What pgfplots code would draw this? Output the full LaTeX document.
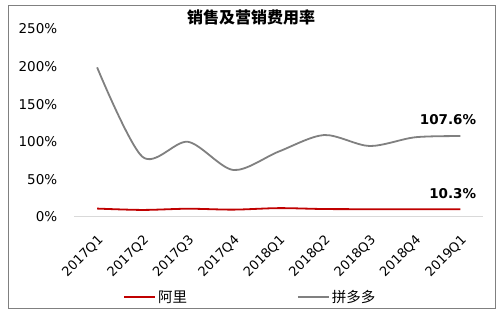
\documentclass[border=0pt]{standalone}
\usepackage{pgfplots}
\pgfplotsset{compat=1.18}
\usepackage{fontspec}
\setmainfont{DejaVu Sans}
\newfontfamily\cjk{Noto Sans CJK SC}
\definecolor{alired}{RGB}{192,0,0}
\definecolor{pddgray}{RGB}{128,128,128}
\definecolor{framegray}{RGB}{128,128,128}
\definecolor{axisgray}{RGB}{217,217,217}
\begin{document}
\begin{tikzpicture}[x=1pt,y=1pt]
\path[use as bounding box, fill=white] (0,0) rectangle (502,315);
\draw[color=framegray, line width=1.2pt] (8.5,6.5) rectangle (495.5,309.5);
\node[font=\cjk\bfseries\fontsize{16}{18}\selectfont, inner sep=0pt] at (251,298) {销售及营销费用率};
\begin{axis}[
  at={(74.4pt,98pt)}, anchor=south west, scale only axis,
  width=408.6pt, height=188pt,
  xmin=-0.5, xmax=8.5, ymin=0, ymax=250,
  axis x line*=bottom, axis y line*=left,
  y axis line style={draw=none},
  x axis line style={draw=axisgray, line width=1pt},
  major tick length=0pt,
  ytick={0,50,100,150,200,250},
  yticklabel={\pgfmathprintnumber{\tick}\%},
  /pgf/number format/assume math mode=true,
  yticklabel style={font=\fontsize{13.5}{15}\selectfont, inner sep=0pt, anchor=east, xshift=-17pt},
  xtick={0,1,2,3,4,5,6,7,8},
  xticklabels={2017Q1,2017Q2,2017Q3,2017Q4,2018Q1,2018Q2,2018Q3,2018Q4,2019Q1},
  xticklabel style={font=\fontsize{13}{15}\selectfont, inner sep=0pt, xshift=4pt, yshift=-21pt, rotate=45, anchor=east},
  legend style={at={(0.119,-0.4255)}, anchor=west, draw=none, fill=none, inner sep=0pt,
    legend columns=2, font=\cjk\fontsize{14.5}{16}\selectfont,
    /tikz/every even column/.append style={column sep=108pt}},
  legend image code/.code={\draw[#1] (0pt,0pt) -- (31pt,0pt);},
  clip=false,
]
\addplot[alired, line width=1.8pt, smooth, tension=0.5] coordinates {
(0,11.2) (1,9.4) (2,11.0) (3,9.8) (4,11.8) (5,10.6) (6,10.4) (7,10.3) (8,10.3)};
\addlegendentry{阿里}
\addplot[pddgray, line width=1.8pt, smooth, tension=0.5] coordinates {
(0,199) (1,80) (2,100) (3,62.5) (4,87) (5,109) (6,94.4) (7,106) (8,107.6)};
\addlegendentry{拼多多}
\node[anchor=east, inner sep=0pt, font=\bfseries\fontsize{13.5}{15}\selectfont, xshift=16pt, yshift=16pt] at (axis cs:8,107.6) {107.6\%};
\node[anchor=east, inner sep=0pt, font=\bfseries\fontsize{13.5}{15}\selectfont, xshift=16pt, yshift=16pt] at (axis cs:8,10.3) {10.3\%};
\end{axis}
\end{tikzpicture}
\end{document}
